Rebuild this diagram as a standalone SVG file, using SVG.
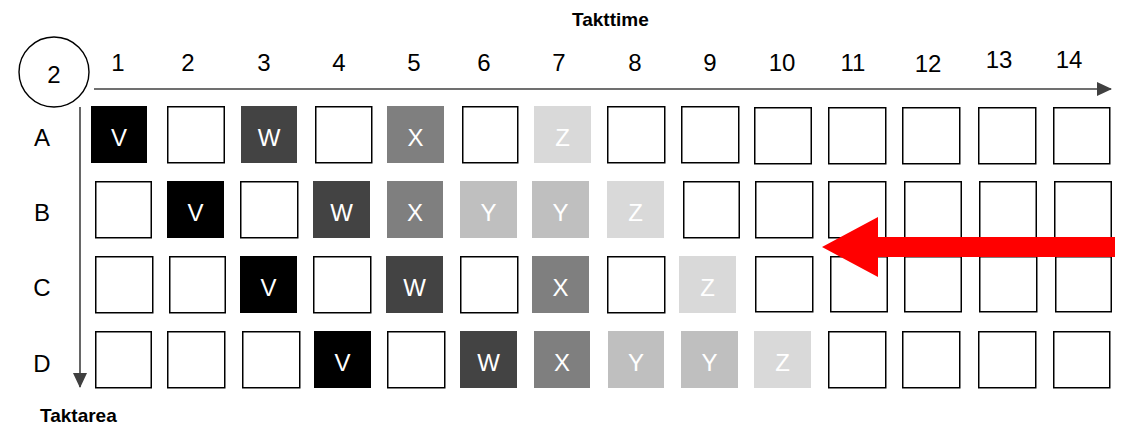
<svg xmlns="http://www.w3.org/2000/svg" width="1122" height="425" viewBox="0 0 1122 425">
<style>
text{font-family:"Liberation Sans",Arial,sans-serif}
.lbl{font-size:24px;fill:#000;text-anchor:middle}
.ttl{font-size:19px;font-weight:bold;fill:#000}
.ct{font-size:24px;fill:#fff;text-anchor:middle}
.e{fill:#fff;stroke:#000;stroke-width:1.5}
.v{fill:#000}.w{fill:#434343}.x{fill:#7f7f7f}.y{fill:#bfbfbf}.z{fill:#d9d9d9}
.ax{stroke:#404040;stroke-width:1.6;fill:none}
</style>
<defs>
<marker id="ah" markerWidth="15" markerHeight="14" refX="14" refY="7" orient="auto" markerUnits="userSpaceOnUse" viewBox="0 0 15 14"><path d="M0,0 L15,7 L0,14 z" fill="#404040"/></marker>
</defs>
<g id="title-time"><text class="ttl" x="572" y="26">Takttime</text></g>
<g id="title-area"><text class="ttl" x="40" y="422">Taktarea</text></g>
<g id="badge"><circle cx="54" cy="72" r="35" fill="#fff" stroke="#000" stroke-width="1.4"/><text class="lbl" x="54" y="83">2</text></g>
<g id="col-labels">
<text class="lbl" x="118" y="71">1</text><text class="lbl" x="188" y="71">2</text><text class="lbl" x="264" y="71">3</text><text class="lbl" x="339" y="71">4</text><text class="lbl" x="414" y="71">5</text><text class="lbl" x="484" y="71">6</text><text class="lbl" x="559" y="71">7</text><text class="lbl" x="635" y="71">8</text><text class="lbl" x="710" y="71">9</text><text class="lbl" x="782" y="71">10</text><text class="lbl" x="853" y="71">11</text><text class="lbl" x="928" y="72">12</text><text class="lbl" x="999" y="68">13</text><text class="lbl" x="1069" y="68">14</text>
</g>
<g id="row-labels">
<text class="lbl" x="42" y="146">A</text><text class="lbl" x="42" y="221">B</text><text class="lbl" x="42" y="296">C</text><text class="lbl" x="42" y="372">D</text>
</g>
<g id="row-A">
<g id="A1"><rect class="v" x="91" y="106" width="56" height="57"/><text class="ct" x="119" y="146">V</text></g>
<g id="A2"><rect class="e" x="167.75" y="106.75" width="56.5" height="56"/></g>
<g id="A3"><rect class="w" x="241" y="106" width="56" height="57"/><text class="ct" x="269" y="146">W</text></g>
<g id="A4"><rect class="e" x="315.75" y="106.75" width="56" height="56"/></g>
<g id="A5"><rect class="x" x="387" y="106" width="57" height="57"/><text class="ct" x="415.5" y="146">X</text></g>
<g id="A6"><rect class="e" x="462.75" y="106.75" width="55" height="56"/></g>
<g id="A7"><rect class="z" x="534" y="106" width="57" height="57"/><text class="ct" x="562.5" y="146">Z</text></g>
<g id="A8"><rect class="e" x="607.75" y="106.75" width="57" height="56"/></g>
<g id="A9"><rect class="e" x="681.75" y="106.75" width="57" height="56"/></g>
<g id="A10"><rect class="e" x="754.75" y="107.75" width="56.5" height="56"/></g>
<g id="A11"><rect class="e" x="828.75" y="107.75" width="57" height="56"/></g>
<g id="A12"><rect class="e" x="902.75" y="107.75" width="57" height="56"/></g>
<g id="A13"><rect class="e" x="978.75" y="107.75" width="57" height="56"/></g>
<g id="A14"><rect class="e" x="1053.75" y="107.75" width="56" height="56"/></g>
</g>
<g id="row-B">
<g id="B1"><rect class="e" x="95.75" y="181.75" width="55.5" height="56"/></g>
<g id="B2"><rect class="v" x="167" y="181" width="57" height="57"/><text class="ct" x="195.5" y="221">V</text></g>
<g id="B3"><rect class="e" x="240.75" y="181.75" width="57" height="56"/></g>
<g id="B4"><rect class="w" x="313" y="181" width="57" height="57"/><text class="ct" x="341.5" y="221">W</text></g>
<g id="B5"><rect class="x" x="387" y="181" width="56" height="57"/><text class="ct" x="415" y="221">X</text></g>
<g id="B6"><rect class="y" x="460" y="181" width="57" height="57"/><text class="ct" x="488.5" y="221">Y</text></g>
<g id="B7"><rect class="y" x="532" y="181" width="57" height="57"/><text class="ct" x="560.5" y="221">Y</text></g>
<g id="B8"><rect class="z" x="607" y="181" width="57" height="57"/><text class="ct" x="635.5" y="221">Z</text></g>
<g id="B9"><rect class="e" x="683.75" y="181.75" width="55.5" height="56"/></g>
<g id="B10"><rect class="e" x="755.75" y="181.75" width="57" height="56"/></g>
<g id="B11"><rect class="e" x="828.75" y="181.75" width="57" height="56"/></g>
<g id="B12"><rect class="e" x="904.75" y="181.75" width="56.5" height="56"/></g>
<g id="B13"><rect class="e" x="979.75" y="181.75" width="56.5" height="56"/></g>
<g id="B14"><rect class="e" x="1054.75" y="181.75" width="56.5" height="56"/></g>
</g>
<g id="row-C">
<g id="C1"><rect class="e" x="95.75" y="256.75" width="57" height="56"/></g>
<g id="C2"><rect class="e" x="169.75" y="256.75" width="55.5" height="56"/></g>
<g id="C3"><rect class="v" x="240" y="256" width="57" height="57"/><text class="ct" x="268.5" y="296">V</text></g>
<g id="C4"><rect class="e" x="313.75" y="256.75" width="57" height="56"/></g>
<g id="C5"><rect class="w" x="386" y="256" width="57" height="57"/><text class="ct" x="414.5" y="296">W</text></g>
<g id="C6"><rect class="e" x="460.75" y="256.75" width="57" height="56"/></g>
<g id="C7"><rect class="x" x="532" y="256" width="57" height="57"/><text class="ct" x="560.5" y="296">X</text></g>
<g id="C8"><rect class="e" x="607.75" y="256.75" width="57" height="56"/></g>
<g id="C9"><rect class="z" x="679" y="256" width="57" height="57"/><text class="ct" x="707.5" y="296">Z</text></g>
<g id="C10"><rect class="e" x="755.75" y="256.75" width="57" height="55"/></g>
<g id="C11"><rect class="e" x="830.75" y="256.75" width="56.5" height="55"/></g>
<g id="C12"><rect class="e" x="904.75" y="256.75" width="56.5" height="55"/></g>
<g id="C13"><rect class="e" x="979.75" y="256.75" width="57" height="55"/></g>
<g id="C14"><rect class="e" x="1055.75" y="256.75" width="55.5" height="55"/></g>
</g>
<g id="row-D">
<g id="D1"><rect class="e" x="95.75" y="331.75" width="55.5" height="56"/></g>
<g id="D2"><rect class="e" x="167.75" y="331.75" width="57" height="56"/></g>
<g id="D3"><rect class="e" x="242.75" y="331.75" width="57" height="56"/></g>
<g id="D4"><rect class="v" x="314" y="331" width="57" height="57"/><text class="ct" x="342.5" y="371">V</text></g>
<g id="D5"><rect class="e" x="387.75" y="331.75" width="57" height="56"/></g>
<g id="D6"><rect class="w" x="460" y="331" width="57" height="57"/><text class="ct" x="488.5" y="371">W</text></g>
<g id="D7"><rect class="x" x="534" y="331" width="56" height="57"/><text class="ct" x="562" y="371">X</text></g>
<g id="D8"><rect class="y" x="608" y="331" width="56" height="57"/><text class="ct" x="636" y="371">Y</text></g>
<g id="D9"><rect class="y" x="681" y="331" width="57" height="57"/><text class="ct" x="709.5" y="371">Y</text></g>
<g id="D10"><rect class="z" x="754" y="331" width="57" height="57"/><text class="ct" x="782.5" y="371">Z</text></g>
<g id="D11"><rect class="e" x="828.75" y="331.75" width="57" height="56"/></g>
<g id="D12"><rect class="e" x="902.75" y="331.75" width="57" height="56"/></g>
<g id="D13"><rect class="e" x="978.75" y="331.75" width="57" height="56"/></g>
<g id="D14"><rect class="e" x="1053.75" y="331.75" width="56" height="56"/></g>
</g>
<g id="connectors">
<line class="ax" x1="94" y1="89" x2="1111" y2="89" marker-end="url(#ah)"/>
<line class="ax" x1="80" y1="107" x2="80" y2="387" marker-end="url(#ah)"/>
<path d="M1115,237 L878,237 L878,217 L822,247 L878,277 L878,257 L1115,257 z" fill="#ff0000"/>
</g>
</svg>
